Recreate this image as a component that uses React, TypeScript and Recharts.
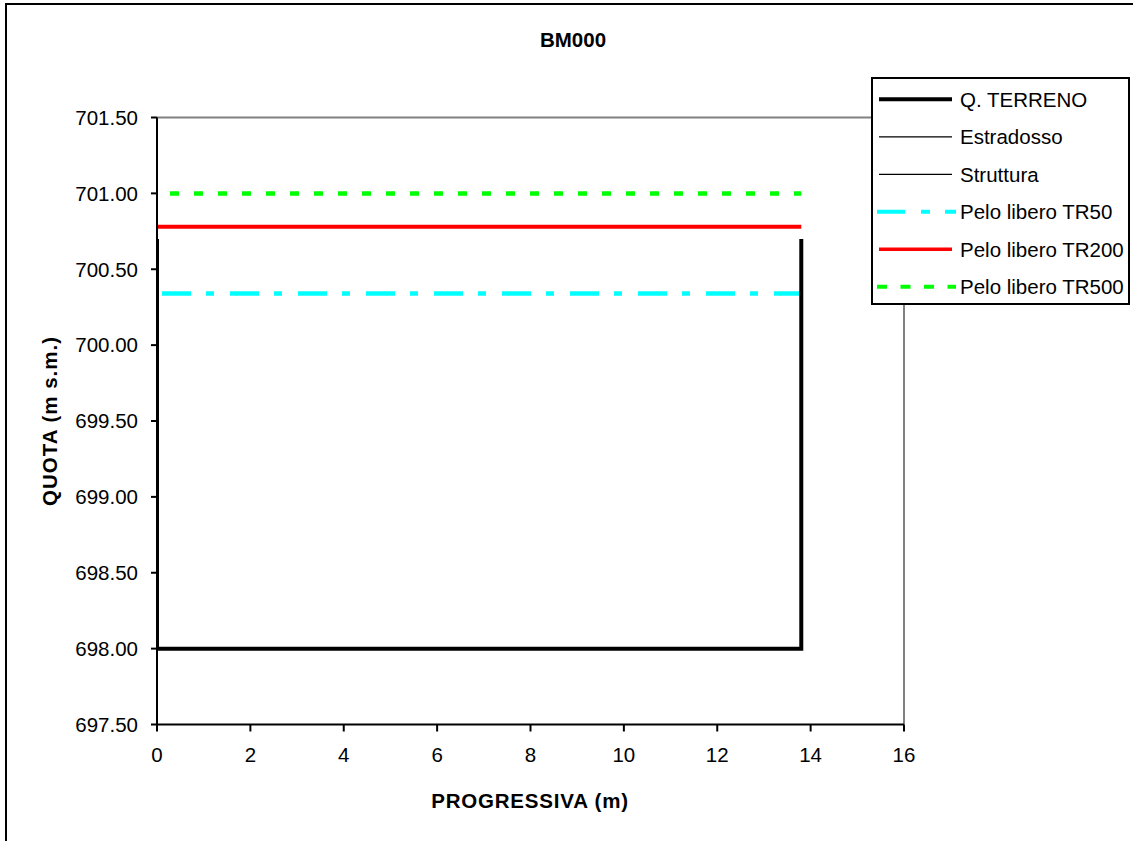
import React from 'react';
import { LineChart, Line, XAxis, YAxis, ReferenceLine, Legend } from 'recharts';

const xTicks = [0, 2, 4, 6, 8, 10, 12, 14, 16];
const yTicks = [697.5, 698.0, 698.5, 699.0, 699.5, 700.0, 700.5, 701.0, 701.5];

const terreno = [
  { x: 0, y: 700.7 },
  { x: 0, y: 698.0 },
  { x: 13.8, y: 698.0 },
  { x: 13.8, y: 700.7 },
];
const estradosso: { x: number; y: number }[] = [];
const struttura: { x: number; y: number }[] = [];
const tr50 = [
  { x: 0, y: 700.34 },
  { x: 13.8, y: 700.34 },
];
const tr200 = [
  { x: 0, y: 700.78 },
  { x: 13.8, y: 700.78 },
];
const tr500 = [
  { x: 0, y: 701.0 },
  { x: 13.8, y: 701.0 },
];

const seriesNames = [
  'Q. TERRENO',
  'Estradosso',
  'Struttura',
  'Pelo libero TR50',
  'Pelo libero TR200',
  'Pelo libero TR500',
];

const FONT = '"Liberation Sans", Arial, sans-serif';
const FS = 20.5;

const legendStyles = [
  { stroke: '#000', width: 4, dash: undefined as string | undefined, x1: 8, x2: 81 },
  { stroke: '#000', width: 1.3, dash: undefined, x1: 8, x2: 81 },
  { stroke: '#000', width: 1.3, dash: undefined, x1: 8, x2: 81 },
  { stroke: '#00ffff', width: 4, dash: '28 16 9 15', x1: 6, x2: 85 },
  { stroke: '#ff0000', width: 3.5, dash: undefined, x1: 8, x2: 81 },
  { stroke: '#00ff00', width: 4, dash: '10 13.5', x1: 6, x2: 85 },
];

const LegendBox = () => {
  const W = 259;
  const H = 228;
  return (
    <svg width={W} height={H} style={{ display: 'block' }}>
      <rect x={1} y={1} width={W - 2} height={H - 2} fill="#fff" stroke="#000" strokeWidth={2} />
      {seriesNames.map((name, i) => {
        const cy = 22.3 + i * 37.5;
        const s = legendStyles[i];
        return (
          <g key={name}>
            <line x1={s.x1} x2={s.x2} y1={cy} y2={cy} stroke={s.stroke} strokeWidth={s.width} strokeDasharray={s.dash} />
            <text x={89} y={cy + 7.5} fontFamily={FONT} fontSize={FS} fill="#000">
              {name}
            </text>
          </g>
        );
      })}
    </svg>
  );
};

export default function App() {
  return (
    <div
      style={{
        position: 'fixed',
        left: 0,
        top: 0,
        width: 1133,
        height: 841,
        overflow: 'hidden',
        background: '#fff',
        fontFamily: FONT,
      }}
    >
      <svg
        width={1133}
        height={841}
        style={{ position: 'absolute', left: 0, top: 0, display: 'block' }}
      >
        <rect x={6} y={4} width={1160} height={870} fill="#fff" stroke="#000" strokeWidth={2} />
      </svg>
      <div style={{ position: 'absolute', left: 0, top: 0 }}>
        <LineChart
          width={1133}
          height={841}
          margin={{ top: 117.5, right: 229, bottom: 56.5, left: 57 }}
        >
          <XAxis
            type="number"
            dataKey="x"
            domain={[0, 16]}
            ticks={xTicks}
            interval={0}
            height={60}
            axisLine={{ stroke: '#000', strokeWidth: 2 }}
            tickLine={{ stroke: '#000', strokeWidth: 2 }}
            tickSize={7}
            tickMargin={16}
            tick={{ fill: '#000', fontSize: FS, fontFamily: FONT }}
            allowDataOverflow
          />
          <YAxis
            type="number"
            dataKey="y"
            domain={[697.5, 701.5]}
            ticks={yTicks}
            interval={0}
            width={100}
            axisLine={{ stroke: '#000', strokeWidth: 2 }}
            tickLine={{ stroke: '#000', strokeWidth: 2 }}
            tickSize={6}
            tickMargin={13}
            tickFormatter={(v: number) => v.toFixed(2)}
            tick={{ fill: '#000', fontSize: FS, fontFamily: FONT }}
            allowDataOverflow
          />
          <ReferenceLine y={701.5} stroke="#808080" strokeWidth={2} />
          <ReferenceLine x={16} stroke="#808080" strokeWidth={2} />
          <Line
            data={estradosso}
            dataKey="y"
            name={seriesNames[1]}
            stroke="#000"
            strokeWidth={1}
            dot={false}
            activeDot={false}
            isAnimationActive={false}
          />
          <Line
            data={struttura}
            dataKey="y"
            name={seriesNames[2]}
            stroke="#000"
            strokeWidth={1}
            dot={false}
            activeDot={false}
            isAnimationActive={false}
          />
          <Line
            data={tr50}
            dataKey="y"
            name={seriesNames[3]}
            type="linear"
            stroke="#00ffff"
            strokeWidth={4.5}
            strokeDasharray="29 15 8 16"
            strokeDashoffset={63}
            dot={false}
            activeDot={false}
            isAnimationActive={false}
          />
          <Line
            data={tr200}
            dataKey="y"
            name={seriesNames[4]}
            type="linear"
            stroke="#ff0000"
            strokeWidth={4}
            dot={false}
            activeDot={false}
            isAnimationActive={false}
          />
          <Line
            data={tr500}
            dataKey="y"
            name={seriesNames[5]}
            type="linear"
            stroke="#00ff00"
            strokeWidth={4.5}
            strokeDasharray="9 15"
            strokeDashoffset={11}
            dot={false}
            activeDot={false}
            isAnimationActive={false}
          />
          <Line
            data={terreno}
            dataKey="y"
            name={seriesNames[0]}
            type="linear"
            stroke="#000"
            strokeWidth={4}
            strokeLinejoin="miter"
            dot={false}
            activeDot={false}
            isAnimationActive={false}
          />
          <Legend
            layout="horizontal"
            verticalAlign="middle"
            align="center"
            content={() => <LegendBox />}
            wrapperStyle={{ position: 'absolute', left: 871, top: 77, width: 259, height: 228, bottom: 'auto', right: 'auto', margin: 0 }}
          />
        </LineChart>
      </div>
      <div
        style={{
          position: 'absolute',
          left: 573,
          top: 40,
          transform: 'translate(-50%, -50%)',
          fontSize: FS,
          fontWeight: 'bold',
          whiteSpace: 'nowrap',
        }}
      >
        BM000
      </div>
      <div
        style={{
          position: 'absolute',
          left: 530,
          top: 801,
          transform: 'translate(-50%, -50%)',
          fontSize: FS,
          fontWeight: 'bold',
          whiteSpace: 'nowrap',
          letterSpacing: 0.8,
        }}
      >
        PROGRESSIVA (m)
      </div>
      <div
        style={{
          position: 'absolute',
          left: 50,
          top: 421,
          transform: 'translate(-50%, -50%) rotate(-90deg)',
          fontSize: FS,
          fontWeight: 'bold',
          whiteSpace: 'nowrap',
          letterSpacing: 1,
        }}
      >
        QUOTA (m s.m.)
      </div>
    </div>
  );
}
